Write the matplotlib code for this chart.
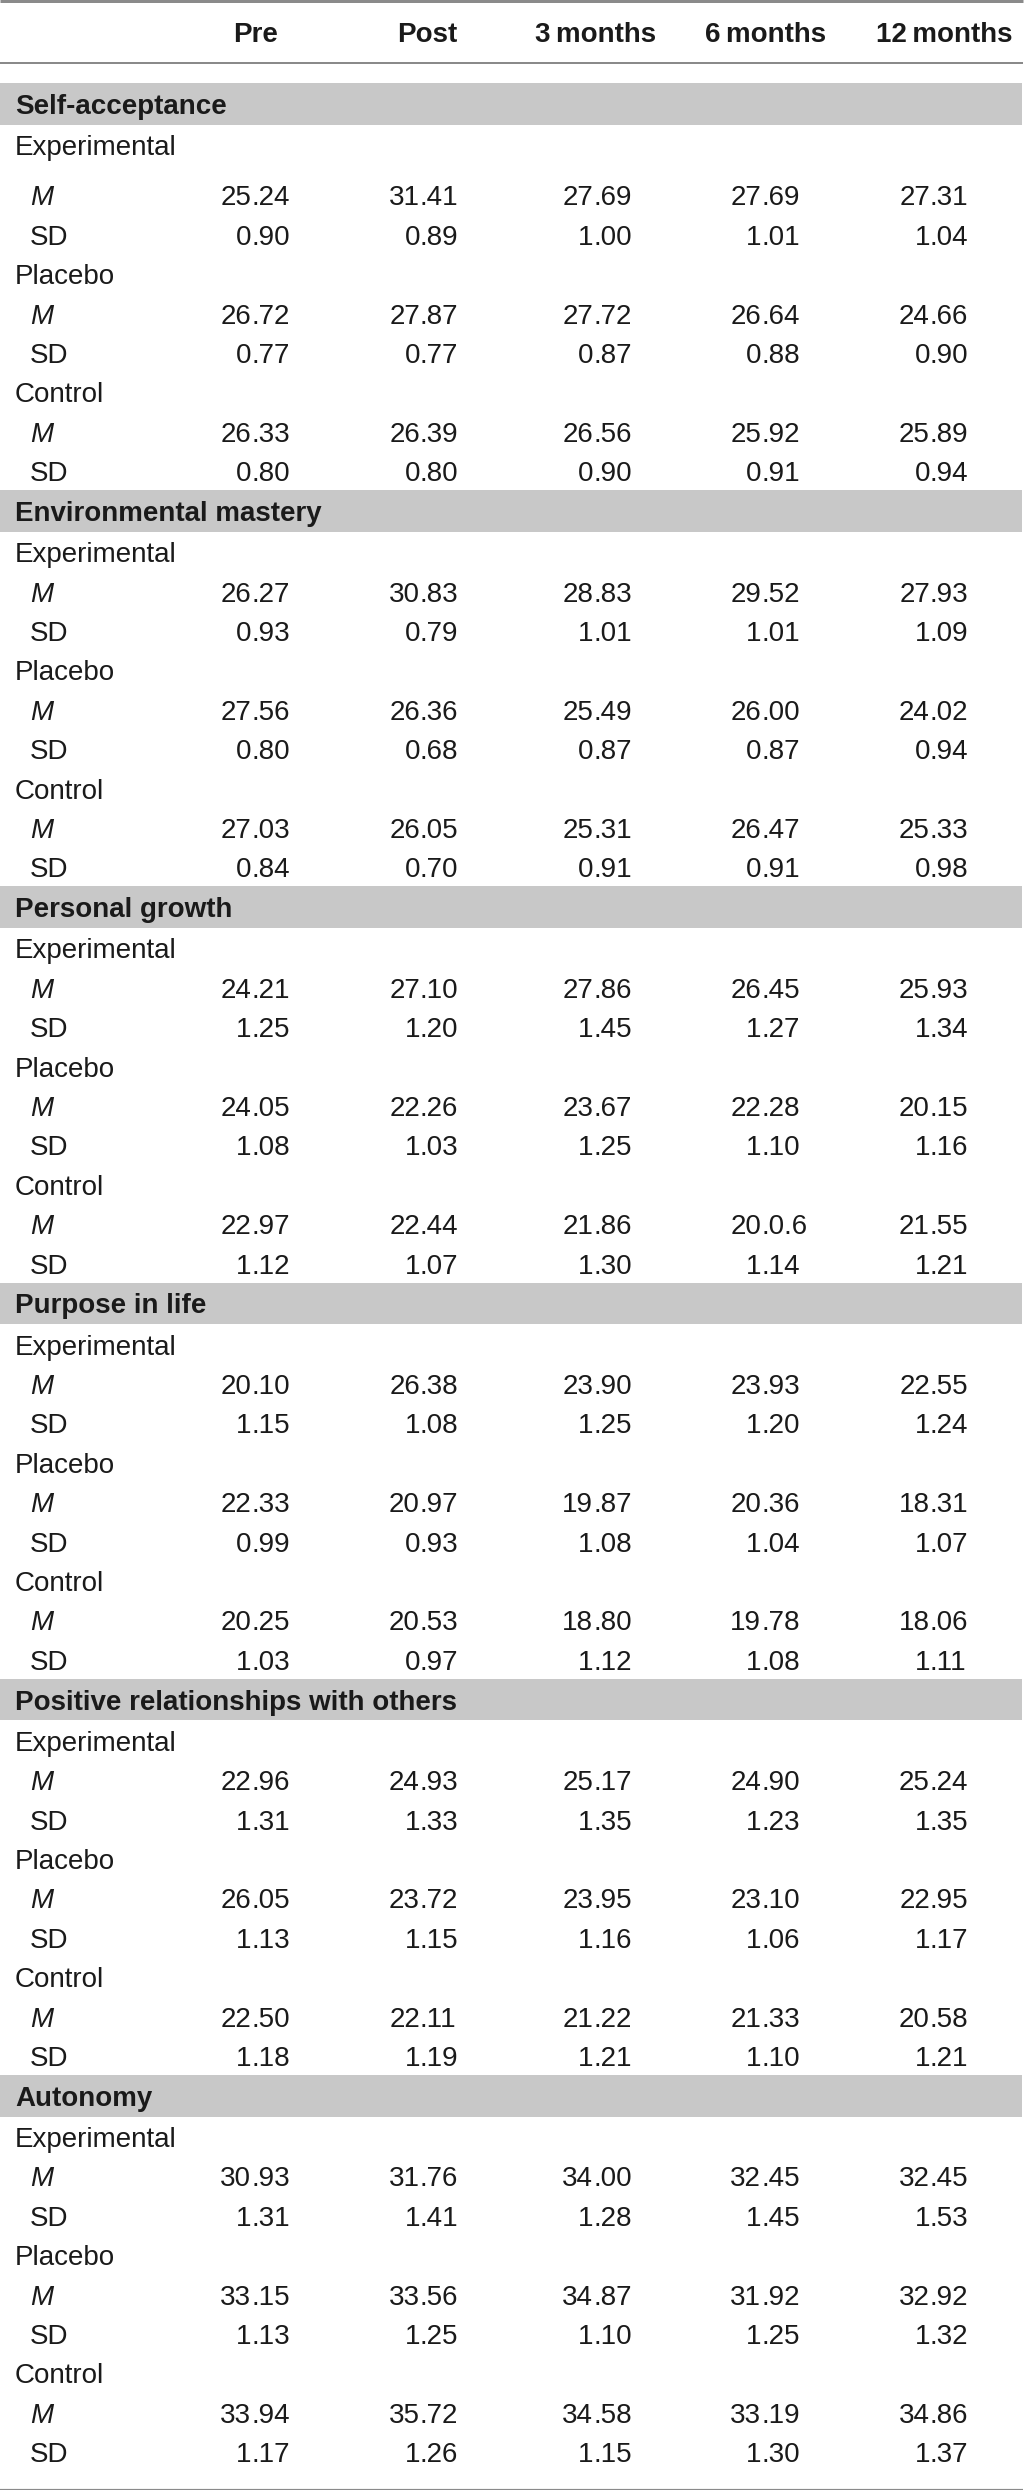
import matplotlib.pyplot as plt
from matplotlib.patches import Rectangle

plt.rcParams['font.family'] = ['Liberation Sans', 'DejaVu Sans']

#	Data

timepoints = ["Pre", "Post", "3\u2009months", "6\u2009months", "12\u2009months"]
groups = ["Experimental", "Placebo", "Control"]
scales = ["Self-acceptance", "Environmental mastery", "Personal growth",
          "Purpose in life", "Positive relationships with others", "Autonomy"]

# rows: experimental, placebo, control
self_acceptance_m = [["25.24", "31.41", "27.69", "27.69", "27.31"],
                     ["26.72", "27.87", "27.72", "26.64", "24.66"],
                     ["26.33", "26.39", "26.56", "25.92", "25.89"]]
self_acceptance_sd = [["0.90", "0.89", "1.00", "1.01", "1.04"],
                      ["0.77", "0.77", "0.87", "0.88", "0.90"],
                      ["0.80", "0.80", "0.90", "0.91", "0.94"]]

env_mastery_m = [["26.27", "30.83", "28.83", "29.52", "27.93"],
                 ["27.56", "26.36", "25.49", "26.00", "24.02"],
                 ["27.03", "26.05", "25.31", "26.47", "25.33"]]
env_mastery_sd = [["0.93", "0.79", "1.01", "1.01", "1.09"],
                  ["0.80", "0.68", "0.87", "0.87", "0.94"],
                  ["0.84", "0.70", "0.91", "0.91", "0.98"]]

pers_growth_m = [["24.21", "27.10", "27.86", "26.45", "25.93"],
                 ["24.05", "22.26", "23.67", "22.28", "20.15"],
                 ["22.97", "22.44", "21.86", "20.0.6", "21.55"]]
pers_growth_sd = [["1.25", "1.20", "1.45", "1.27", "1.34"],
                  ["1.08", "1.03", "1.25", "1.10", "1.16"],
                  ["1.12", "1.07", "1.30", "1.14", "1.21"]]

purpose_m = [["20.10", "26.38", "23.90", "23.93", "22.55"],
             ["22.33", "20.97", "19.87", "20.36", "18.31"],
             ["20.25", "20.53", "18.80", "19.78", "18.06"]]
purpose_sd = [["1.15", "1.08", "1.25", "1.20", "1.24"],
              ["0.99", "0.93", "1.08", "1.04", "1.07"],
              ["1.03", "0.97", "1.12", "1.08", "1.11"]]

pos_rel_m = [["22.96", "24.93", "25.17", "24.90", "25.24"],
             ["26.05", "23.72", "23.95", "23.10", "22.95"],
             ["22.50", "22.11", "21.22", "21.33", "20.58"]]
pos_rel_sd = [["1.31", "1.33", "1.35", "1.23", "1.35"],
              ["1.13", "1.15", "1.16", "1.06", "1.17"],
              ["1.18", "1.19", "1.21", "1.10", "1.21"]]

autonomy_m = [["30.93", "31.76", "34.00", "32.45", "32.45"],
              ["33.15", "33.56", "34.87", "31.92", "32.92"],
              ["33.94", "35.72", "34.58", "33.19", "34.86"]]
autonomy_sd = [["1.31", "1.41", "1.28", "1.45", "1.53"],
               ["1.13", "1.25", "1.10", "1.25", "1.32"],
               ["1.17", "1.26", "1.15", "1.30", "1.37"]]

table = [(self_acceptance_m, self_acceptance_sd), (env_mastery_m, env_mastery_sd),
         (pers_growth_m, pers_growth_sd), (purpose_m, purpose_sd),
         (pos_rel_m, pos_rel_sd), (autonomy_m, autonomy_sd)]

#	Layout (pixels, y downwards)

W, H = 1024, 2490
fs = 20
txt = '#1a1a1a'
line_col = '#8a8a8a'
band_col = '#c8c8c8'
head_x = [256, 427, 596, 766, 944]    # header centres
dot_x = [251, 420, 593, 761, 930]     # decimal point positions
pitch = 39.4
base = 10                             # centre -> baseline

fig = plt.figure(figsize=(W / 100, H / 100), dpi=100)
ax = fig.add_axes([0, 0, 1, 1])
ax.set_xlim(0, W)
ax.set_ylim(H, 0)
ax.axis('off')


def hline(y, px):
    ax.plot([0, 1023], [y, y], color=line_col, lw=px * 0.72, solid_capstyle='butt')


def number(x, y, s):
    head, _, tail = s.partition('.')
    ax.text(x, y + base, head, ha='right', va='baseline', fontsize=fs, color=txt)
    ax.text(x, y + base, '.' + tail, ha='left', va='baseline', fontsize=fs, color=txt)


hline(1, 3)
for i, t in enumerate(timepoints):
    ax.text(head_x[i], 32 + base, t, ha='center', va='baseline', fontsize=fs,
            fontweight='bold', color=txt)
hline(62.5, 2)

band_top = 83
for k, scale in enumerate(scales):
    ax.add_patch(Rectangle((0, band_top), 1022, 41.5, color=band_col, lw=0))
    ax.text(15, band_top + 20.75 + base, scale, ha='left', va='baseline', fontsize=fs,
            fontweight='bold', color=txt)
    y = band_top + 62
    m_vals, sd_vals = table[k]
    for g, group in enumerate(groups):
        ax.text(15, y + base, group, ha='left', va='baseline', fontsize=fs, color=txt)
        y += pitch
        if k == 0 and g == 0:
            y += 11
        ax.text(30, y + base, 'M', ha='left', va='baseline', fontsize=fs,
                style='italic', color=txt)
        for i in range(len(timepoints)):
            number(dot_x[i], y, m_vals[g][i])
        y += pitch
        ax.text(30, y + base, 'SD', ha='left', va='baseline', fontsize=fs, color=txt)
        for i in range(len(timepoints)):
            number(dot_x[i], y, sd_vals[g][i])
        if g < len(groups) - 1:
            y += pitch
    band_top = y + 19

hline(band_top + 19, 2.2)

plt.savefig('out.png', dpi=100)
